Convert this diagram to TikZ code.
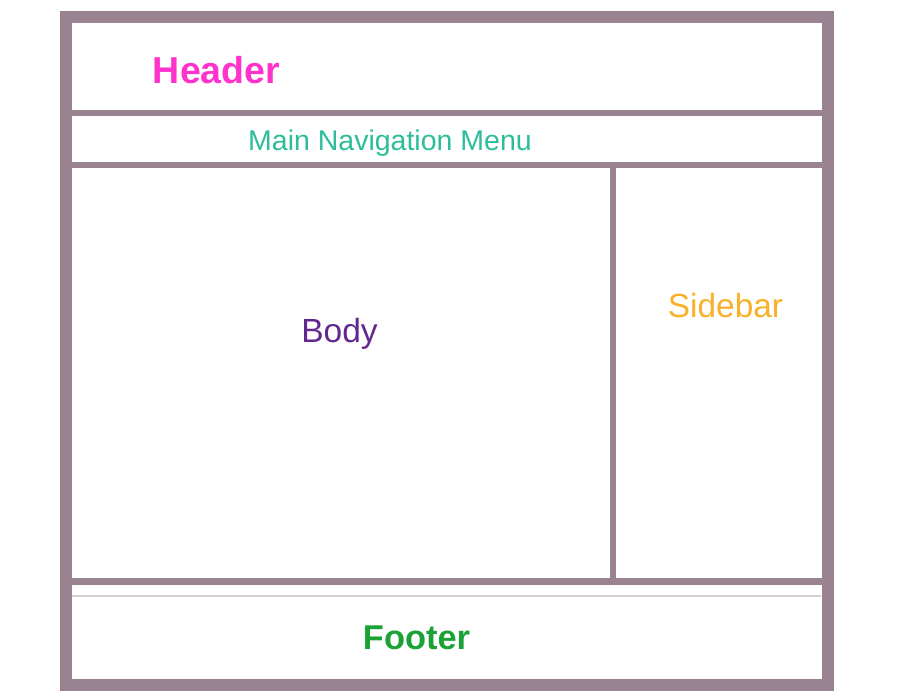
\documentclass[tikz,border=0pt]{standalone}
\usepackage{fontspec}
\setmainfont{Liberation Sans}
\definecolor{framegray}{RGB}{153,131,145}
\definecolor{headpink}{RGB}{255,51,204}
\definecolor{navteal}{RGB}{46,189,155}
\definecolor{bodypurple}{RGB}{98,40,143}
\definecolor{sideorange}{RGB}{249,177,43}
\definecolor{footgreen}{RGB}{26,162,54}
\begin{document}
\begin{tikzpicture}[
            x=1pt, y=-1pt,
            frame/.style={draw=framegray, line width=12pt},
            rule/.style={draw=framegray, line width=6pt},
            lbl/.style={inner sep=0pt, anchor=base},
        ]
        \useasboundingbox[fill=white] (0,0) rectangle (907,698);

        % outer frame and dividers
        \draw[frame] (66,17) rectangle (828,685);
        \draw[rule] (72,113) -- (822,113);
        \draw[rule] (72,165) -- (822,165);
        \draw[draw=framegray, line width=7pt] (72,581) -- (822,581);
        \draw[rule] (613,165) -- (613,578);
        \draw[draw=framegray!40, line width=2pt] (72,596) -- (821,596);

        \node[lbl, text=headpink, font=\fontsize{37.5}{40}\selectfont\bfseries] (header) at (216.5,84) {Header};
        \node[lbl, text=navteal, font=\fontsize{28.5}{30}\selectfont] (nav) at (390,150) {Main Navigation Menu};
        \node[lbl, text=bodypurple, font=\fontsize{33.5}{36}\selectfont] (body) at (339.5,342) {Body};
        \node[lbl, text=sideorange, font=\fontsize{33.4}{36}\selectfont] (sidebar) at (725.5,317) {Sidebar};
        \node[lbl, text=footgreen, font=\fontsize{34.4}{36}\selectfont\bfseries] (footer) at (416.5,649) {Footer};
    \end{tikzpicture}
\end{document}
